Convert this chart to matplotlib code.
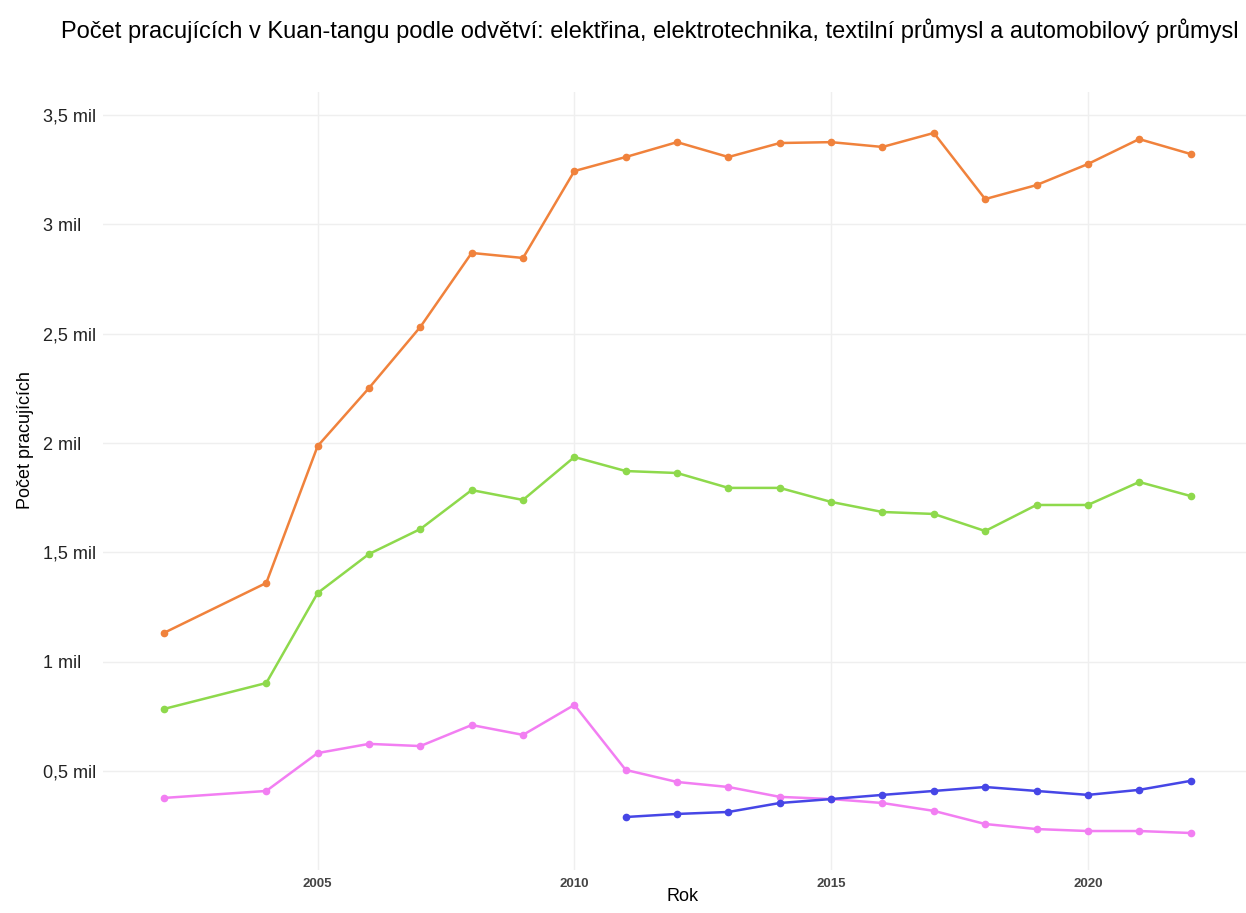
import matplotlib
matplotlib.use("Agg")
import matplotlib.pyplot as plt
from matplotlib.ticker import FuncFormatter

plt.rcParams['font.family'] = ['Liberation Sans', 'DejaVu Sans']

years = [2002, 2004, 2005, 2006, 2007, 2008, 2009, 2010, 2011, 2012,
         2013, 2014, 2015, 2016, 2017, 2018, 2019, 2020, 2021, 2022]

# hodnoty v milionech
elektrina = [1.132, 1.361, 1.986, 2.251, 2.530, 2.868, 2.845, 3.242, 3.306, 3.374,
             3.306, 3.370, 3.374, 3.352, 3.416, 3.114, 3.178, 3.274, 3.388, 3.320]
elektrotechnika = [0.785, 0.904, 1.315, 1.493, 1.607, 1.785, 1.740, 1.936, 1.872, 1.863,
                   1.795, 1.795, 1.731, 1.685, 1.676, 1.598, 1.717, 1.717, 1.822, 1.758]
textil = [0.379, 0.411, 0.584, 0.626, 0.616, 0.712, 0.667, 0.804, 0.507, 0.452,
          0.429, 0.384, 0.374, 0.356, 0.320, 0.260, 0.237, 0.228, 0.228, 0.219]
auto_years = years[8:]
automobily = [0.292, 0.306, 0.315, 0.356, 0.374, 0.393, 0.411, 0.429, 0.411, 0.393,
              0.416, 0.457]

fig = plt.figure(figsize=(12.46, 9.13), dpi=100)
ax = fig.add_axes([103/1246, 43/913, 1143/1246, 778/913])

ax.plot(years, elektrina, color='#F0823C', marker='o', markersize=4.5, linewidth=1.8)
ax.plot(years, elektrotechnika, color='#8ED94C', marker='o', markersize=4.5, linewidth=1.8)
ax.plot(years, textil, color='#F27EF2', marker='o', markersize=4.5, linewidth=1.8)
ax.plot(auto_years, automobily, color='#4646E6', marker='o', markersize=4.5, linewidth=1.8)

ax.set_xlim(2000.82, 2023.08)
ax.set_ylim(0.05, 3.603)
ax.set_xticks([2005, 2010, 2015, 2020])
ax.set_yticks([0.5, 1, 1.5, 2, 2.5, 3, 3.5])

def fmt(v, pos):
    s = ('%g' % v).replace('.', ',')
    return s + ' mil'

ax.yaxis.set_major_formatter(FuncFormatter(fmt))
ax.grid(True, color='#EFEFEF', linewidth=1)
ax.set_axisbelow(True)
for s in ax.spines.values():
    s.set_visible(False)
ax.tick_params(length=0)
ax.tick_params(axis='y', labelsize=13, pad=43, labelcolor='#222')
for lab in ax.get_yticklabels():
    lab.set_horizontalalignment('left')
ax.tick_params(axis='x', labelsize=9.5, labelcolor='#444', pad=6)
for lab in ax.get_xticklabels():
    lab.set_fontweight('bold')

# popisky os
fig.text(683/1246, 1 - 896/913, 'Rok', fontsize=13, ha='center', va='center')
fig.text(25/1246, 1 - 440/913, 'Počet pracujících', rotation=90, fontsize=13,
         ha='center', va='center')
fig.text(650/1246, 1 - 31/913,
         'Počet pracujících v Kuan-tangu podle odvětví: elektřina, elektrotechnika, textilní průmysl a automobilový průmysl',
         fontsize=17, ha='center', va='center')

fig.savefig('out.png', dpi=100)
